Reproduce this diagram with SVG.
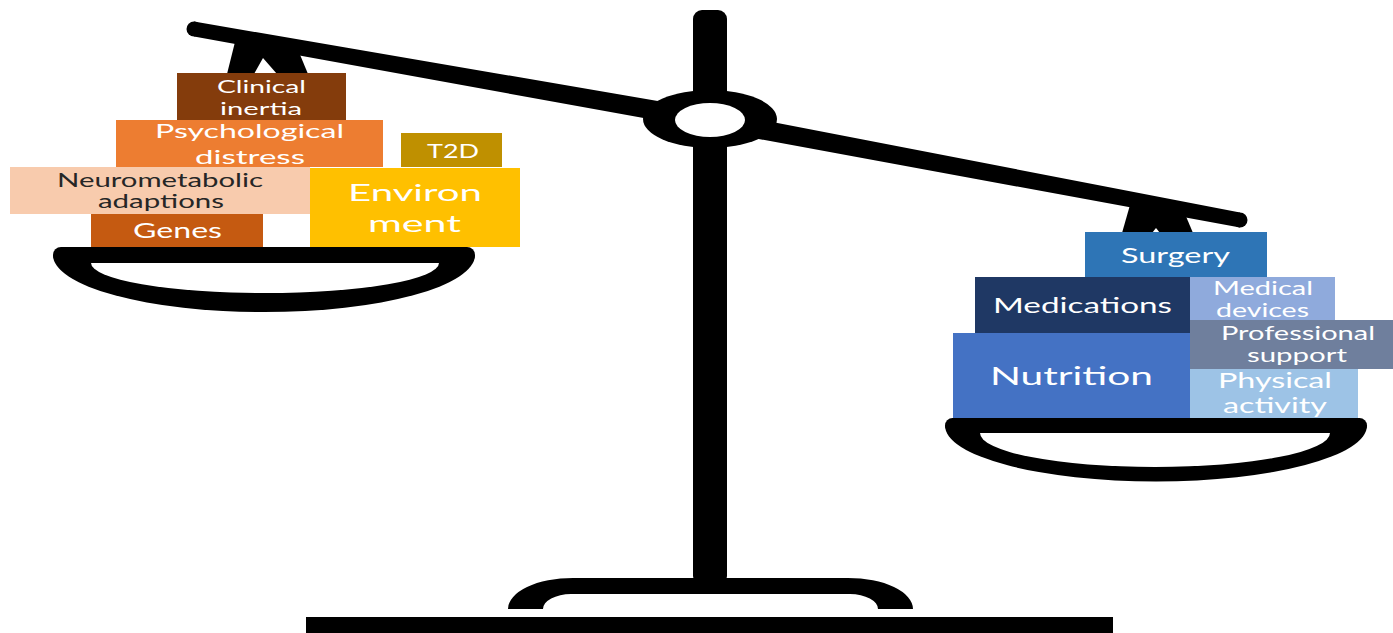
<svg xmlns="http://www.w3.org/2000/svg" width="1393" height="633" viewBox="0 0 1393 633">
<style>
.k{fill:#000}
.w{fill:#fff}
.t{font-family:Lato,"Open Sans","Liberation Sans",sans-serif;fill:#fff;text-anchor:middle}
.d{fill:#262626}
</style>
<rect width="1393" height="633" fill="#fff"/>
<g id="scale">
  <rect id="post" class="k" x="693" y="10" width="34" height="575" rx="9"/>
  <path id="foot" class="k" d="M508 609 A65 31 0 0 1 573 578 L848 578 A65 31 0 0 1 913 609 L878 609 A28 15 0 0 0 850 594 L571 594 A28 15 0 0 0 543 609 Z"/>
  <rect id="base" class="k" x="306" y="617" width="807" height="16"/>
  <polygon id="beam" class="k" points="194,21.5 710,110 1240,212.5 1240,227.5 710,130 194,36.5"/>
  <circle class="k" cx="194" cy="29" r="7.5"/>
  <circle class="k" cx="1240" cy="220" r="7.5"/>
  <ellipse class="k" cx="710" cy="119" rx="67" ry="29"/>
  <ellipse class="w" cx="710" cy="120" rx="35" ry="17"/>
  <polygon id="hanger-left" class="k" points="236,38 296,45 308,74 227,74"/>
  <polygon class="w" points="254,74 263,58 277,74"/>
  <polygon id="hanger-right" class="k" points="1130,205 1185,214 1193,233 1122,233"/>
  <polygon class="w" points="1152,233 1156,228 1160,233"/>
  <g id="pan-left">
    <path class="k" d="M53 255 A211 57 0 0 0 475 255 Z"/>
    <line x1="61" y1="255" x2="467" y2="255" stroke="#000" stroke-width="16" stroke-linecap="round"/>
    <path class="w" d="M91 263 A174 30 0 0 0 439 263 Z"/>
  </g>
  <g id="pan-right">
    <path class="k" d="M945 425.5 A211 56 0 0 0 1367 425.5 Z"/>
    <line x1="952.5" y1="425.5" x2="1359.5" y2="425.5" stroke="#000" stroke-width="15" stroke-linecap="round"/>
    <path class="w" d="M980 433 A175 34 0 0 0 1330 433 Z"/>
  </g>
</g>
<g id="connectors"/>
<g id="clinical-inertia">
  <rect x="177" y="73" width="169" height="47" fill="#843C0C"/>
  <text class="t" x="261.5" y="93" font-size="18" textLength="89" lengthAdjust="spacingAndGlyphs">Clinical</text>
  <text class="t" x="261" y="115" font-size="18" textLength="82" lengthAdjust="spacingAndGlyphs">inertia</text>
</g>
<g id="psychological-distress">
  <rect x="116" y="120" width="267" height="47" fill="#ED7D31"/>
  <text class="t" x="249.5" y="138" font-size="20" textLength="189" lengthAdjust="spacingAndGlyphs">Psychological</text>
  <text class="t" x="250" y="164" font-size="20" textLength="110" lengthAdjust="spacingAndGlyphs">distress</text>
</g>
<g id="t2d">
  <rect x="401" y="133" width="101" height="34" fill="#BF9000"/>
  <text class="t" x="453" y="158" font-size="18.5" textLength="52" lengthAdjust="spacingAndGlyphs">T2D</text>
</g>
<g id="neurometabolic-adaptions">
  <rect x="10" y="167" width="300" height="47" fill="#F8CBAD"/>
  <text class="t d" x="160" y="187" font-size="18.5" textLength="206" lengthAdjust="spacingAndGlyphs">Neurometabolic</text>
  <text class="t d" x="161" y="208" font-size="18.5" textLength="126" lengthAdjust="spacingAndGlyphs">adaptions</text>
</g>
<g id="environment">
  <rect x="310" y="168" width="210" height="79" fill="#FFC000"/>
  <text class="t" x="415" y="201" font-size="24" textLength="134" lengthAdjust="spacingAndGlyphs">Environ</text>
  <text class="t" x="414.5" y="232" font-size="24" textLength="93" lengthAdjust="spacingAndGlyphs">ment</text>
</g>
<g id="genes">
  <rect x="91" y="214" width="172" height="33" fill="#C55A11"/>
  <text class="t" x="177.5" y="238" font-size="21" textLength="89" lengthAdjust="spacingAndGlyphs">Genes</text>
</g>
<g id="surgery">
  <rect x="1085" y="232" width="182" height="45" fill="#2E75B6"/>
  <text class="t" x="1175.5" y="263" font-size="22" textLength="109" lengthAdjust="spacingAndGlyphs">Surgery</text>
</g>
<g id="medications">
  <rect x="975" y="277" width="215" height="56" fill="#1F3864"/>
  <text class="t" x="1082.5" y="313" font-size="21" textLength="179" lengthAdjust="spacingAndGlyphs">Medications</text>
</g>
<g id="medical-devices">
  <rect x="1190" y="277" width="145" height="43" fill="#8FAADC"/>
  <text class="t" x="1263" y="295" font-size="18.5" textLength="100" lengthAdjust="spacingAndGlyphs">Medical</text>
  <text class="t" x="1262.5" y="317" font-size="18.5" textLength="93" lengthAdjust="spacingAndGlyphs">devices</text>
</g>
<g id="professional-support">
  <rect x="1190" y="320" width="203" height="49" fill="#6F7F9D"/>
  <text class="t" x="1298" y="340" font-size="18.5" textLength="154" lengthAdjust="spacingAndGlyphs">Professional</text>
  <text class="t" x="1297" y="362" font-size="18.5" textLength="100" lengthAdjust="spacingAndGlyphs">support</text>
</g>
<g id="nutrition">
  <rect x="953" y="333" width="237" height="85" fill="#4472C4"/>
  <text class="t" x="1071.5" y="385" font-size="25.5" textLength="163" lengthAdjust="spacingAndGlyphs">Nutrition</text>
</g>
<g id="physical-activity">
  <rect x="1190" y="369" width="168" height="49" fill="#9DC3E6"/>
  <text class="t" x="1275" y="388" font-size="21" textLength="114" lengthAdjust="spacingAndGlyphs">Physical</text>
  <text class="t" x="1275" y="413" font-size="21" textLength="104" lengthAdjust="spacingAndGlyphs">activity</text>
</g>
</svg>
